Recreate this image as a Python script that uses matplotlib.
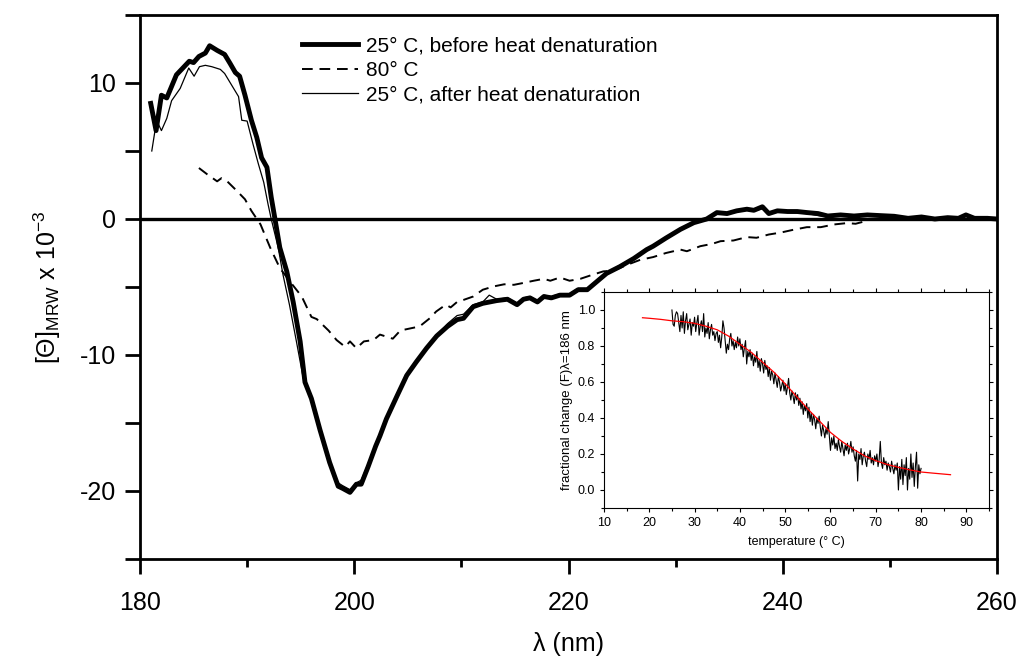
import numpy as np
import matplotlib
matplotlib.use("Agg")
import matplotlib.pyplot as plt
from matplotlib.ticker import MultipleLocator

plt.rcParams['font.family'] = ['Liberation Sans', 'DejaVu Sans']
plt.rcParams['mathtext.fontset'] = 'custom'
plt.rcParams['mathtext.rm'] = 'Liberation Sans'
plt.rcParams['mathtext.it'] = 'Liberation Sans:italic'
plt.rcParams['mathtext.bf'] = 'Liberation Sans:bold'
plt.rcParams['axes.unicode_minus'] = False

# ---------------- main CD spectra ----------------
before_x = [181.0, 181.5, 182.0, 182.5, 183.4, 184.6, 185.0, 185.5, 186.1, 186.5,
            187.2, 187.9, 188.4, 188.9, 189.3, 189.8, 190.4, 190.9, 191.35, 191.85,
            192.25, 192.6, 193.05, 193.7, 194.3, 194.95, 195.4, 196.0, 196.8, 197.7,
            198.5, 198.9, 199.6, 200.2, 200.65, 201.3, 202.0, 202.4, 203.0, 204.0,
            204.9, 205.8, 206.75, 207.7, 208.7, 209.6, 210.2, 211.1, 212.0, 213.3,
            214.3, 215.2, 215.8, 216.4, 217.1, 217.7, 218.4, 219.2, 220.1, 220.9,
            221.75, 222.65, 223.55, 224.8, 226.1, 227.3, 227.9, 229.1, 230.45, 231.7,
            232.9, 233.85, 234.8, 235.7, 236.65, 237.3, 238.1, 238.7, 239.5, 240.45,
            241.35, 242.3, 243.3, 244.2, 245.4, 246.65, 247.9, 249.1, 250.4, 251.7,
            252.95, 254.2, 255.4, 256.4, 257.1, 257.9, 259.1, 260.0]
before_y = [8.5, 6.5, 9.1, 8.9, 10.6, 11.6, 11.5, 11.95, 12.2, 12.74,
            12.4, 12.1, 11.45, 10.77, 10.5, 9.1, 7.26, 6.0, 4.5, 3.8,
            1.6, 0.0, -2.1, -3.85, -6.1, -9.0, -12.0, -13.2, -15.5, -17.9,
            -19.65, -19.8, -20.1, -19.5, -19.5, -18.2, -16.7, -15.95, -14.7, -13.0,
            -11.5, -10.5, -9.5, -8.6, -7.9, -7.4, -7.3, -6.45, -6.2, -6.0,
            -5.9, -6.3, -5.9, -5.8, -6.1, -5.7, -5.8, -5.6, -5.6, -5.2,
            -5.2, -4.6, -4.0, -3.5, -2.9, -2.25, -2.0, -1.4, -0.76, -0.27,
            0.0, 0.47, 0.4, 0.6, 0.72, 0.64, 0.9, 0.4, 0.6, 0.55,
            0.55, 0.47, 0.4, 0.22, 0.3, 0.22, 0.3, 0.25, 0.2, 0.05,
            0.15, 0.0, 0.1, 0.05, 0.3, 0.05, 0.05, 0.0]

after_x = [181.1, 181.4, 181.7, 182.0, 182.5, 182.95, 183.75, 184.55, 185.05, 185.55,
           186.1, 186.7, 187.5, 187.9, 188.55, 189.2, 189.5, 190.0, 190.55, 191.05,
           191.55, 191.95, 192.25, 192.9, 193.35, 193.95, 194.6, 195.25, 196.0, 196.8,
           197.7, 198.5, 198.9, 199.6, 200.2, 200.65, 201.3, 202.0, 202.4, 203.0,
           204.0, 204.9, 205.8, 206.75, 207.7, 208.7, 209.6, 210.2, 211.1, 212.0,
           212.6, 213.3, 214.3, 215.2, 215.8, 216.4, 217.1, 217.7, 218.4, 219.2,
           220.1, 220.9, 221.75, 222.65, 223.55, 224.8, 226.1, 227.3, 227.9, 229.1,
           230.45, 231.7, 232.9, 233.85, 234.8, 235.7, 236.65, 237.3, 238.1, 238.7,
           239.5, 240.45, 241.35, 242.3, 243.3, 244.2, 245.4, 246.65, 247.9, 249.1,
           250.4, 251.7, 252.95, 254.2, 255.4, 256.4, 257.1, 257.9, 259.1, 260.0]
after_y = [5.0, 6.5, 7.0, 6.5, 7.4, 8.7, 9.6, 11.1, 10.5, 11.2,
           11.3, 11.2, 11.0, 10.7, 9.85, 9.0, 7.26, 7.2, 5.5, 4.05,
           2.7, 1.1, 0.0, -2.1, -4.1, -6.3, -9.0, -11.75, -13.0, -15.6,
           -18.0, -19.4, -19.6, -19.9, -19.4, -19.2, -18.0, -16.6, -15.9, -14.6,
           -12.9, -11.4, -10.4, -9.5, -8.6, -7.7, -7.1, -7.0, -6.3, -6.1,
           -5.6, -5.9, -5.8, -6.2, -5.8, -5.7, -6.0, -5.6, -5.7, -5.5,
           -5.5, -5.1, -5.1, -4.5, -4.0, -3.4, -2.85, -2.2, -2.0, -1.35,
           -0.8, -0.3, 0.0, 0.4, 0.35, 0.55, 0.65, 0.6, 0.75, 0.45,
           0.55, 0.5, 0.45, 0.4, 0.25, 0.15, 0.25, 0.2, 0.25, 0.2,
           0.15, 0.05, 0.1, 0.0, 0.05, 0.0, 0.25, 0.0, 0.05, 0.0]

hot_x = [185.5, 186.25, 187.2, 187.6, 188.1, 189.0, 189.8, 190.4, 191.25, 192.15,
         193.05, 194.0, 195.1, 196.0, 196.5, 197.6, 198.35, 199.15, 199.6, 200.2,
         200.9, 201.8, 202.4, 203.6, 204.3, 205.2, 206.1, 207.05, 207.65, 208.55,
         209.0, 209.6, 210.2, 211.1, 212.0, 213.0, 214.0, 214.9, 215.8, 216.75,
         217.7, 218.3, 219.2, 220.1, 221.1, 222.05, 223.25, 224.2, 225.5, 226.7,
         227.9, 229.1, 230.45, 231.05, 232.3, 233.4, 234.2, 235.4, 236.65, 237.55,
         238.7, 239.8, 241.0, 242.25, 243.55, 244.8, 246.0, 246.8, 248.0]
hot_y = [3.75, 3.3, 2.77, 3.0, 2.8, 2.1, 1.45, 0.6, -0.4, -2.1,
         -3.6, -4.6, -5.7, -7.2, -7.36, -8.2, -8.9, -9.4, -9.0, -9.5,
         -9.0, -8.9, -8.5, -8.8, -8.2, -8.05, -7.9, -7.3, -6.8, -6.3,
         -6.5, -6.1, -5.95, -5.7, -5.2, -4.96, -4.8, -4.84, -4.7, -4.54,
         -4.4, -4.54, -4.3, -4.54, -4.4, -4.15, -3.85, -3.8, -3.36, -3.0,
         -2.8, -2.5, -2.25, -2.37, -2.0, -1.83, -1.63, -1.58, -1.33, -1.38,
         -1.14, -1.0, -0.79, -0.6, -0.6, -0.4, -0.3, -0.35, -0.1]

legend_labels = ["25° C, before heat denaturation", "80° C", "25° C, after heat denaturation"]

# ---------------- inset: thermal denaturation ----------------
temp_start, temp_step = 25.0, 0.25
frac_change = [
    1.00, 0.92, 0.91, 0.97, 0.99, 0.98, 0.93, 0.88, 0.97, 0.90, 0.99, 0.87, 0.94, 0.98, 0.89, 0.92, 0.95, 0.86, 0.93, 0.91,
    0.96, 0.88, 0.93, 0.97, 0.86, 0.91, 0.94, 0.88, 0.98, 0.85, 0.90, 0.87, 0.93, 0.84, 0.89, 0.92, 0.86, 0.88, 0.83, 0.87,
    0.88, 0.82, 0.86, 0.79, 0.85, 0.94, 0.90, 0.83, 0.76, 0.81, 0.78, 0.84, 0.87, 0.80, 0.83, 0.78, 0.82, 0.79, 0.85, 0.80,
    0.84, 0.78, 0.81, 0.74, 0.79, 0.83, 0.70, 0.77, 0.74, 0.78, 0.72, 0.76, 0.69, 0.74, 0.71, 0.77, 0.68, 0.72, 0.66, 0.73,
    0.70, 0.65, 0.72, 0.67, 0.69, 0.63, 0.68, 0.61, 0.66, 0.64, 0.59, 0.65, 0.61, 0.57, 0.63, 0.60, 0.55, 0.58, 0.61, 0.55,
    0.59, 0.53, 0.57, 0.62, 0.54, 0.50, 0.55, 0.52, 0.48, 0.54, 0.50, 0.53, 0.47, 0.51, 0.45, 0.49, 0.42, 0.47, 0.44, 0.48,
    0.40, 0.46, 0.38, 0.43, 0.36, 0.42, 0.39, 0.34, 0.40, 0.37, 0.41, 0.35, 0.30, 0.36, 0.33, 0.29, 0.34, 0.31, 0.38, 0.30,
    0.22, 0.29, 0.25, 0.30, 0.23, 0.26, 0.22, 0.28, 0.24, 0.21, 0.27, 0.23, 0.19, 0.25, 0.22, 0.26, 0.20, 0.23, 0.27, 0.21,
    0.24, 0.19, 0.16, 0.22, 0.05, 0.20, 0.17, 0.23, 0.14, 0.19, 0.21, 0.16, 0.13, 0.20, 0.17, 0.22, 0.15, 0.18, 0.14, 0.19,
    0.16, 0.20, 0.13, 0.17, 0.27, 0.15, 0.12, 0.18, 0.14, 0.16, 0.11, 0.15, 0.13, 0.10, 0.16, 0.12, 0.09, 0.14, 0.11, 0.15,
    0.00, 0.13, 0.06, 0.17, 0.03, 0.14, 0.08, 0.18, 0.00, 0.12, 0.06, 0.20, 0.07, 0.15, 0.02, 0.13, 0.21, 0.01, 0.14, 0.09,
    0.12]
fit_temp = [18.5, 20, 22.5, 25, 27.5, 30, 32.5, 35, 37.5, 40, 42.5, 45, 47.5, 50,
            52.5, 55, 57.5, 60, 62.5, 65, 67.5, 70, 72.5, 75, 77.5, 80, 82.5, 86.5]
fit_frac = [0.957, 0.954, 0.948, 0.94, 0.935, 0.926, 0.91, 0.89, 0.855, 0.81, 0.765, 0.71, 0.655, 0.59,
            0.52, 0.45, 0.385, 0.32, 0.27, 0.228, 0.19, 0.163, 0.142, 0.126, 0.112, 0.10, 0.094, 0.085]

# ---------------- figure ----------------
fig = plt.figure(figsize=(10.22, 6.61), dpi=100)
W, H = 1022, 661
ax = fig.add_axes([140 / W, 1 - 559 / H, (997 - 140) / W, (559 - 15) / H])

ax.axhline(0, color='black', lw=2.4, zorder=1)
ax.plot(before_x, before_y, color='black', lw=3.5, solid_joinstyle='round', label=legend_labels[0], zorder=3)
ax.plot(hot_x, hot_y, color='black', lw=1.4, dashes=(5.5, 3.5), label=legend_labels[1], zorder=2)
ax.plot(after_x, after_y, color='black', lw=0.9, label=legend_labels[2], zorder=4)

ax.set_xlim(180, 260)
ax.set_ylim(-25, 15)
ax.xaxis.set_major_locator(MultipleLocator(20))
ax.xaxis.set_minor_locator(MultipleLocator(10))
ax.yaxis.set_major_locator(MultipleLocator(10))
ax.yaxis.set_minor_locator(MultipleLocator(5))
for s in ax.spines.values():
    s.set_linewidth(2.0)
ax.tick_params(axis='both', which='both', direction='out', width=2.0, labelsize=18)
ax.tick_params(axis='x', which='major', length=11, pad=12)
ax.tick_params(axis='x', which='minor', length=6)
ax.tick_params(axis='y', which='major', length=11, pad=6)
ax.tick_params(axis='y', which='minor', length=11)

ax.set_xlabel('λ (nm)', fontsize=18, labelpad=12)
ax.set_ylabel(r'[$\Theta$]$_{\mathrm{MRW}}$ x 10$^{\mathrm{-3}}$', fontsize=18, labelpad=12)

ax.legend(loc='upper left', bbox_to_anchor=((302 - 140) / (997 - 140), 0.96),
          frameon=False, fontsize=15, handlelength=2.7, handletextpad=0.35,
          labelspacing=0.25, borderpad=0, borderaxespad=0)

# inset
ins = fig.add_axes([604 / W, 1 - 508 / H, (989 - 604) / W, (508 - 292) / H])
temps = temp_start + temp_step * np.arange(len(frac_change))
ins.plot(temps, frac_change, color='black', lw=0.8)
ins.plot(fit_temp, fit_frac, color='red', lw=0.9)
ins.set_xlim(10, 95)
ins.set_ylim(-0.1, 1.1)
ins.xaxis.set_major_locator(MultipleLocator(10))
ins.xaxis.set_minor_locator(MultipleLocator(5))
ins.yaxis.set_major_locator(MultipleLocator(0.2))
ins.yaxis.set_minor_locator(MultipleLocator(0.1))
ins.yaxis.set_major_formatter(matplotlib.ticker.FormatStrFormatter('%.1f'))
for s in ins.spines.values():
    s.set_linewidth(0.8)
ins.tick_params(axis='both', which='both', direction='out', width=0.8, labelsize=9,
                top=True, right=True, labeltop=False, labelright=False)
ins.tick_params(which='major', length=3)
ins.tick_params(which='minor', length=2)
ins.set_xlabel('temperature (° C)', fontsize=9, labelpad=5)
ins.set_ylabel('fractional change (F)λ=186 nm', fontsize=9.5, labelpad=3)

fig.savefig('out.png', dpi=100)
